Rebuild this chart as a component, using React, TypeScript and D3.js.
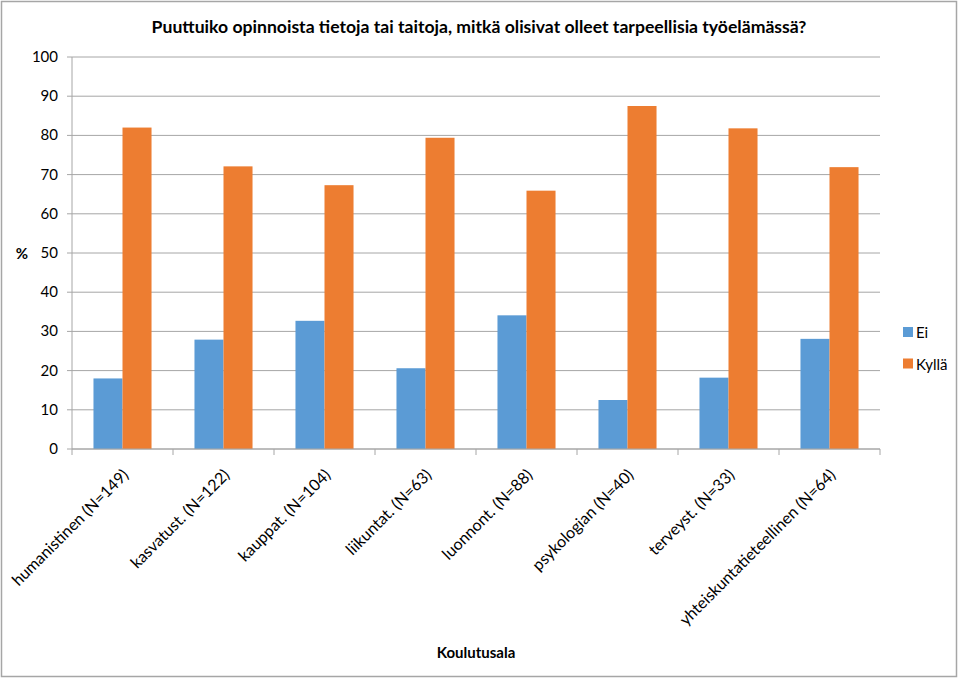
import * as React from "react";
import * as d3 from "d3";

const CATEGORIES = [
  "humanistinen (N=149)",
  "kasvatust. (N=122)",
  "kauppat. (N=104)",
  "liikuntat. (N=63)",
  "luonnont. (N=88)",
  "psykologian (N=40)",
  "terveyst. (N=33)",
  "yhteiskuntatieteellinen (N=64)",
];
const EI = [18, 27.9, 32.7, 20.6, 34.1, 12.5, 18.2, 28.1];
const KYLLA = [82, 72.1, 67.3, 79.4, 65.9, 87.5, 81.8, 71.9];
const SERIES = [
  { name: "Ei", color: "#5b9bd5", values: EI },
  { name: "Kyllä", color: "#ed7d31", values: KYLLA },
];
const Y_TICKS = [0, 10, 20, 30, 40, 50, 60, 70, 80, 90, 100];

const FONT = "Lato, 'Open Sans', sans-serif";

export default function App() {
  const width = 960;
  const height = 679;
  const margin = { left: 72, right: 80, top: 57, bottom: 230 };
  const plotW = width - margin.left - margin.right;
  const plotH = height - margin.top - margin.bottom;

  const x = d3.scaleBand<string>().domain(CATEGORIES).range([margin.left, margin.left + plotW]);
  const inner = d3
    .scaleBand<string>()
    .domain(SERIES.map((s) => s.name))
    .range([0, x.bandwidth()])
    .paddingInner(0)
    .paddingOuter(0.74);
  const y = d3.scaleLinear().domain([0, 100]).range([margin.top + plotH, margin.top]);
  const y0 = y(0);

  return (
    <svg
      width={width}
      height={height}
      style={{ position: "absolute", left: 0, top: 0, background: "#fff" }}
      fontFamily={FONT}
    >
      <rect x={1.5} y={1.5} width={955} height={675} fill="#fff" stroke="#a6a6a6" strokeWidth={1.5} />
      <text x={479} y={33} textAnchor="middle" fontSize={17.6} fontWeight="bold" fill="#000">
        Puuttuiko opinnoista tietoja tai taitoja, mitkä olisivat olleet tarpeellisia työelämässä?
      </text>

      {Y_TICKS.map((t) => (
        <g key={t}>
          <line x1={margin.left - 5} x2={margin.left + plotW} y1={y(t)} y2={y(t)} stroke="#a6a6a6" strokeWidth={1} />
          <text x={58} y={y(t) + 5} textAnchor="end" fontSize={15} fill="#000">
            {t}
          </text>
        </g>
      ))}
      <line x1={margin.left} x2={margin.left} y1={y(100)} y2={y0} stroke="#a6a6a6" />
      <text x={22} y={259} textAnchor="middle" fontSize={15} fontWeight="bold">
        %
      </text>

      {CATEGORIES.map((c, i) => (
        <g key={c}>
          {SERIES.map((s) => (
            <rect
              key={s.name}
              x={(x(c) ?? 0) + (inner(s.name) ?? 0)}
              y={y(s.values[i])}
              width={inner.bandwidth()}
              height={y0 - y(s.values[i])}
              fill={s.color}
            />
          ))}
        </g>
      ))}

      <line x1={margin.left} x2={margin.left + plotW} y1={y0} y2={y0} stroke="#a6a6a6" />
      {CATEGORIES.concat([""]).map((c, i) => {
        const tx = margin.left + i * x.step();
        return <line key={"t" + i} x1={tx} x2={tx} y1={y0} y2={y0 + 6} stroke="#a6a6a6" />;
      })}
      {CATEGORIES.map((c) => {
        const cx = (x(c) ?? 0) + x.bandwidth() / 2 + 7;
        const cy = y0 + 27;
        return (
          <text
            key={"l" + c}
            transform={`translate(${cx},${cy}) rotate(-45)`}
            textAnchor="end"
            fontSize={16}
            fill="#000"
          >
            {c}
          </text>
        );
      })}

      <text x={476} y={658} textAnchor="middle" fontSize={15} fontWeight="bold">
        Koulutusala
      </text>

      {SERIES.map((s, i) => (
        <g key={s.name} transform={`translate(903,${327 + i * 31.5})`}>
          <rect width={10} height={10} fill={s.color} />
          <text x={13} y={11} fontSize={15}>
            {s.name}
          </text>
        </g>
      ))}
    </svg>
  );
}
